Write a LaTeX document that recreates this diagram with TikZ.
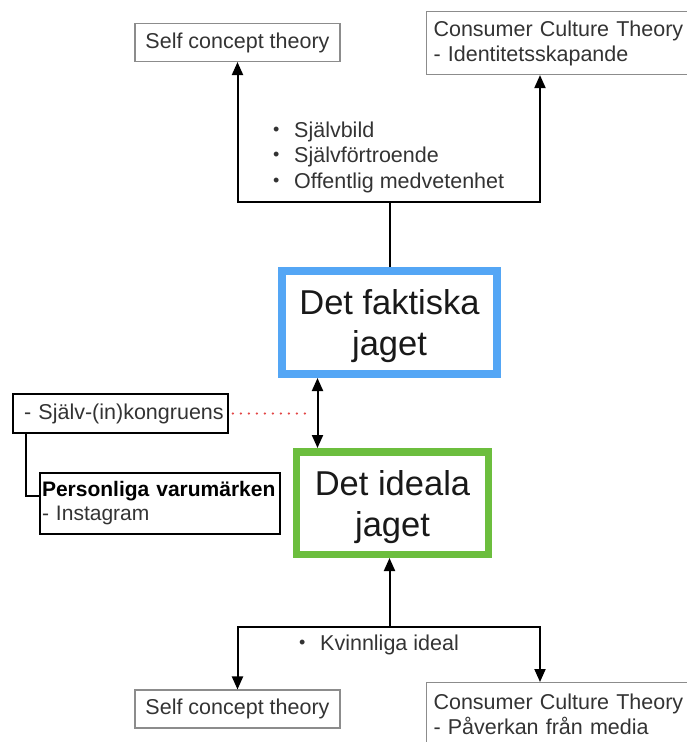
\documentclass[tikz,border=0pt]{standalone}
\usepackage{fontspec}
\setmainfont{Liberation Sans}
\usetikzlibrary{arrows.meta, positioning, calc}

\definecolor{realblue}{RGB}{84,166,245}
\definecolor{idealgreen}{RGB}{108,190,62}
\definecolor{dotred}{RGB}{226,70,70}

% small bullet in front of a list line
\newcommand{\blt}{\makebox[21pt][l]{\raisebox{2pt}{\fontsize{18}{18}\selectfont\textbullet}}}

\begin{document}
\begin{tikzpicture}[
    x=1pt, y=-1pt,
    >={Triangle[width=11pt,length=13pt]},
    font=\fontsize{21.5}{25}\selectfont,
    theory/.style   ={draw=black!45, line width=1.1pt, text=black!80,
                      inner xsep=7pt, inner ysep=0pt},
    ccbox/.style    ={theory, minimum width=290pt, minimum height=63pt,
                      text width=276pt, align=left, anchor=north west},
    selfbox/.style  ={theory, minimum width=205pt, minimum height=38pt},
    jag/.style      ={line width=8pt, fill=white, align=center, minimum width=215pt,
                      minimum height=103pt, text=black!90, text depth=0pt,
                      font=\fontsize{34.5}{41}\selectfont},
    sidebox/.style  ={draw, line width=1.6pt, text=black!80, align=left, inner ysep=0pt},
    flow/.style     ={->, line width=2pt},
    link/.style     ={line width=2pt},
    dotline/.style  ={dotred, line width=2.5pt, line cap=round, dash pattern=on 0pt off 8pt},
    bullets/.style  ={align=left, inner sep=0pt, text=black!80,
                      font=\fontsize{21.5}{25.5}\selectfont}
]
\path[use as bounding box] (0,0) rectangle (687,742);
\clip (0,0) rectangle (687,742);

% =================== TOP: theories ===================
\node[selfbox] (selftop) at (237.5,42.5) {Self concept theory};
\node[ccbox]   (ccttop)  at (426,11)     {Consumer Culture Theory\\- Identitetsskapande};

\node[bullets, anchor=north west] (topideas) at (273,121.5)
    {\blt Självbild\\\blt Självförtroende\\\blt Offentlig medvetenhet};

% =================== MIDDLE: the two selves ===================
\node[jag, draw=realblue] (faktiska) at (389.5,322.5) {Det faktiska\\jaget};
\node[jag, draw=idealgreen, line width=7.5pt, minimum width=192pt,
      minimum height=102.5pt] (ideala) at (392.5,503) {Det ideala\\jaget};

% side notes on the left
\node[sidebox, minimum width=215pt, minimum height=39pt, text width=207pt,
      inner xsep=4pt] (kongr) at (120.5,413.5) {\ - Själv-(in)kongruens};
\node[sidebox, minimum width=240pt, minimum height=61pt, text width=236pt,
      inner xsep=2pt, font=\fontsize{21}{24}\selectfont] (varum) at (160,503.5)
    {\textcolor{black}{\textbf{Personliga varumärken}}\\- Instagram};

% =================== BOTTOM: theories ===================
\node[selfbox] (selfbot) at (237.5,709) {Self concept theory};
\node[ccbox]   (cctbot)  at (426,682)   {Consumer Culture Theory\\- Påverkan från media};

\node[bullets, anchor=base west] (botideas) at (299,650) {\blt Kvinnliga ideal};

% split points
\coordinate (topsplit) at (389.5,202);
\coordinate (botsplit) at (389.5,627);
\coordinate (dotend)   at (312,413.5);

% --- Arrows ---

% actual self -> theories (up)
\draw[link] (faktiska.north) -- (topsplit);
\draw[flow] (topsplit) -| (selftop.south);
\draw[flow] (topsplit) -| ([xshift=114pt]ccttop.south west);

% actual <-> ideal
\draw[<->, line width=2pt] ([xshift=-72pt]faktiska.south)
    -- ([xshift=-72pt]faktiska.south |- ideala.north);

% congruence note
\draw[dotline] ([xshift=4pt]kongr.east) -- (dotend);
\draw[link] ([xshift=14pt]kongr.south west) |- ([yshift=8pt]varum.west);

% theories -> ideal self
\draw[flow] (botsplit) -- (botsplit |- ideala.south);
\draw[flow] (botsplit) -| (selfbot.north);
\draw[flow] (botsplit) -| ([xshift=114pt]cctbot.north west);

\end{tikzpicture}
\end{document}
